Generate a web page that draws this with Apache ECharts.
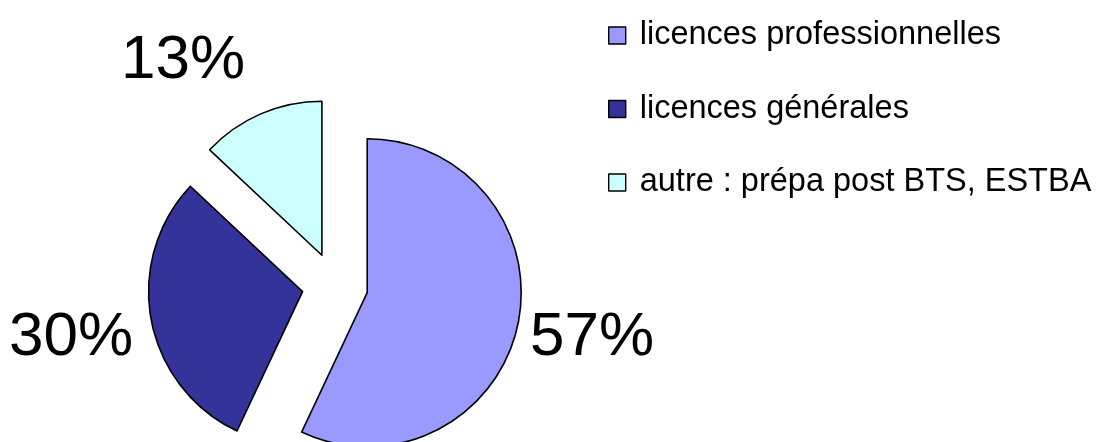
<!DOCTYPE html>
<html>
<head>
<meta charset="utf-8">
<script src="https://cdn.jsdelivr.net/npm/echarts@6/dist/echarts.min.js"></script>
<style>
  html, body { margin: 0; padding: 0; background: #fff; }
  #chart { width: 1098px; height: 442px; }
</style>
</head>
<body>
<div id="chart"></div>
<script>
// data
const categories = ['licences professionnelles', 'licences générales', 'autre : prépa post BTS, ESTBA'];
const shares = [57, 30, 13];
const colors = ['#9999FF', '#333399', '#CCFFFF'];

// where each percentage label sits (center of text), by slice index
const labelPos = [[592, 338], [71, 338], [183, 61]];

const chart = echarts.init(document.getElementById('chart'));

const pieCenter = [335, 285.5];
const pieRadius = 154;

const option = {
  animation: false,
  backgroundColor: '#fff',
  legend: {
    orient: 'vertical',
    left: 608,
    top: 19,
    padding: 0,
    itemWidth: 17,
    itemHeight: 17,
    itemGap: 40.5,
    icon: 'rect',
    selectedMode: false,
    itemStyle: { borderColor: '#000', borderWidth: 1.4 },
    textStyle: {
      fontFamily: 'Liberation Sans',
      fontSize: 32.5,
      lineHeight: 32,
      color: '#000',
      padding: [0, 0, 0, 9]
    },
    data: categories
  },
  series: [{
    // exploded slices
    type: 'pie',
    center: pieCenter,
    radius: pieRadius,
    startAngle: 90,
    clockwise: true,
    selectedMode: 'multiple',
    selectedOffset: 33,
    emphasis: { disabled: true },
    itemStyle: { borderColor: '#000', borderWidth: 1.6 },
    select: { itemStyle: { borderColor: '#000', borderWidth: 1.6 } },
    label: { show: false },
    labelLine: { show: false },
    data: categories.map(function (name, i) {
      return {
        name: name,
        value: shares[i],
        selected: true,
        itemStyle: { color: colors[i] }
      };
    })
  }, {
    // same slices, invisible, only carrying the percentage labels
    type: 'pie',
    center: pieCenter,
    radius: pieRadius,
    startAngle: 90,
    clockwise: true,
    silent: true,
    z: 3,
    emphasis: { disabled: true },
    itemStyle: { color: 'rgba(0,0,0,0)', borderWidth: 0 },
    label: {
      show: true,
      position: 'outside',
      formatter: '{c}%',
      fontFamily: 'Liberation Sans',
      fontSize: 62,
      color: '#000',
      overflow: 'none'
    },
    labelLine: { show: false },
    labelLayout: function (params) {
      const p = labelPos[params.dataIndex];
      return { x: p[0], y: p[1], align: 'center', verticalAlign: 'middle' };
    },
    data: categories.map(function (name, i) {
      return { name: name, value: shares[i] };
    })
  }]
};

chart.setOption(option);
</script>
</body>
</html>
